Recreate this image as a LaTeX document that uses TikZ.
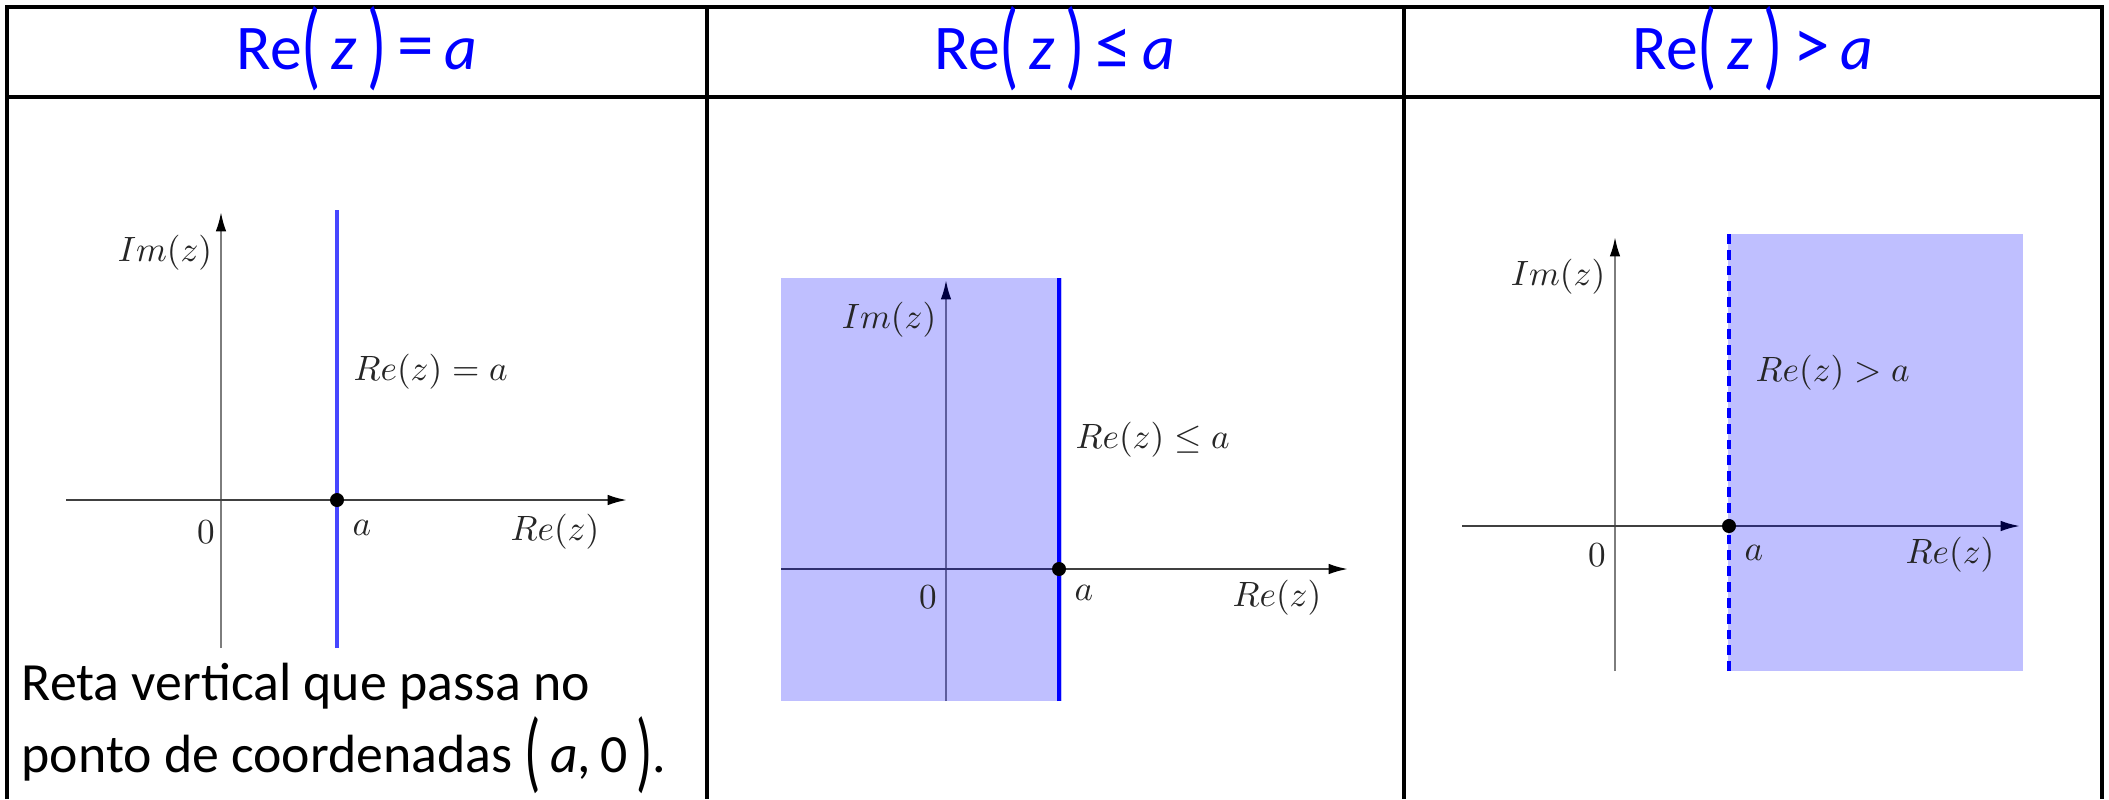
\documentclass[tikz,border=0pt]{standalone}
\usepackage[no-math]{fontspec}
\setmainfont{Carlito}
\usepackage{graphicx}
\usetikzlibrary{arrows.meta}
\definecolor{hdblue}{RGB}{0,0,255}
\definecolor{lineblue}{RGB}{70,70,255}
\definecolor{axisgray}{RGB}{125,125,125}
\newcommand{\tallpar}[3]{\raisebox{#1}{\scalebox{1}[#2]{#3}}}
\newcommand{\hdpar}[1]{\tallpar{-0.13em}{1.53}{#1}}
\newcommand{\txtpar}[1]{\tallpar{-0.17em}{1.65}{#1}}
\newcommand{\hdrel}[1]{\scalebox{1.15}{#1}}
\tikzset{
  tabline/.style={line width=1pt, draw=black},
  header/.style={anchor=base, inner sep=0pt, text=hdblue,
                 font=\fontsize{18.1}{22}\selectfont},
  bodytxt/.style={anchor=base west, inner sep=0pt,
                  font=\fontsize{15.3}{18}\selectfont},
  lbl/.style={inner sep=0pt, text=black!85, font=\fontsize{9.7}{12}\selectfont},
  xaxis/.style={line width=0.6pt, draw=black!75,
                -{Latex[length=5.5pt, width=3pt, color=black]}},
  yaxis/.style={line width=0.6pt, draw=axisgray,
                -{Latex[length=5.5pt, width=3pt, color=black]}},
  reline/.style={line width=0.9pt, draw=lineblue},
  region/.style={fill=blue, fill opacity=0.25, draw=none},
  dot/.style={circle, fill=black, inner sep=0pt, minimum size=0.14cm},
}
\begin{document}
\begin{tikzpicture}[x=0.01cm, y=-0.01cm]
  \useasboundingbox (0,0) rectangle (2109,799);
  % table
  \draw[tabline] (7,799) -- (7,7) -- (2102,7) -- (2102,799);
  \draw[tabline] (7,97) -- (2102,97);
  \draw[tabline] (707,7) -- (707,799);
  \draw[tabline] (1404,7) -- (1404,799);
  \node[header] (hdEq) at (357,69)
        {Re\hdpar{(}\,\textit{z}\,\hdpar{)}\,\hdrel{=}\,\textit{a}};
  \node[header] (hdLe) at (1055,69)
        {Re\hdpar{(}\,\textit{z}\,\hdpar{)}\,\hdrel{≤}\,\textit{a}};
  \node[header] (hdGt) at (1753,69)
        {Re\hdpar{(}\,\textit{z}\,\hdpar{)}\,\hdrel{>}\,\textit{a}};

  % Re(z) = a
  \coordinate (y1b) at (221,648);  \coordinate (y1t) at (221,212);
  \coordinate (x1l) at (66,500);   \coordinate (x1r) at (627,500);
  \coordinate (v1b) at (337,648);  \coordinate (v1t) at (337,210);
  \draw[yaxis] (y1b) -- (y1t);
  \draw[xaxis] (x1l) -- (x1r);
  \draw[reline] (v1b) -- (v1t);
  \node[dot] (pt1) at (337,500) {};
  \node[lbl] (im1) at (165,253) {$Im(z)$};
  \node[lbl, anchor=west] (eq1) at (353,372) {$Re(z) = a$};
  \node[lbl] (zero1) at (206,532) {$0$};
  \node[lbl] (a1) at (362,528) {$a$};
  \node[lbl] (re1) at (555,532) {$Re(z)$};
  \node[bodytxt] (txt1) at (21,700) {Reta vertical que passa no};
  \node[bodytxt] (txt2) at (21,772)
        {ponto de coordenadas \txtpar{(}\,\textit{a},\,0\,\txtpar{)}.};

  % Re(z) <= a
  \coordinate (y2b) at (946,701);  \coordinate (y2t) at (946,280);
  \coordinate (x2l) at (781,569);  \coordinate (x2r) at (1348,569);
  \coordinate (v2b) at (1059,701); \coordinate (v2t) at (1059,278);
  \draw[yaxis] (y2b) -- (y2t);
  \draw[xaxis] (x2l) -- (x2r);
  \fill[region] (781,278) rectangle (1062,701);
  \draw[reline, draw=blue, line width=1.3pt] (v2b) -- (v2t);
  \node[dot] (pt2) at (1059,569) {};
  \node[lbl] (im2) at (889,320) {$Im(z)$};
  \node[lbl, anchor=west] (le2) at (1075,440) {$Re(z) \leq a$};
  \node[lbl] (zero2) at (928,597) {$0$};
  \node[lbl] (a2) at (1084,593) {$a$};
  \node[lbl] (re2) at (1277,598) {$Re(z)$};

  % Re(z) > a
  \coordinate (y3b) at (1615,671); \coordinate (y3t) at (1615,237);
  \coordinate (x3l) at (1462,526); \coordinate (x3r) at (2020,526);
  \coordinate (v3b) at (1729,671); \coordinate (v3t) at (1729,234);
  \draw[yaxis] (y3b) -- (y3t);
  \draw[xaxis] (x3l) -- (x3r);
  \fill[region] (1728,234) rectangle (2023,671);
  \draw[reline, draw=blue, line width=1.3pt,
        dash pattern=on 2.8pt off 1.7pt] (v3b) -- (v3t);
  \node[dot] (pt3) at (1729,526) {};
  \node[lbl] (im3) at (1558,277) {$Im(z)$};
  \node[lbl, anchor=west] (gt3) at (1755,373) {$Re(z) > a$};
  \node[lbl] (zero3) at (1597,555) {$0$};
  \node[lbl] (a3) at (1754,553) {$a$};
  \node[lbl] (re3) at (1950,555) {$Re(z)$};
\end{tikzpicture}
\end{document}
